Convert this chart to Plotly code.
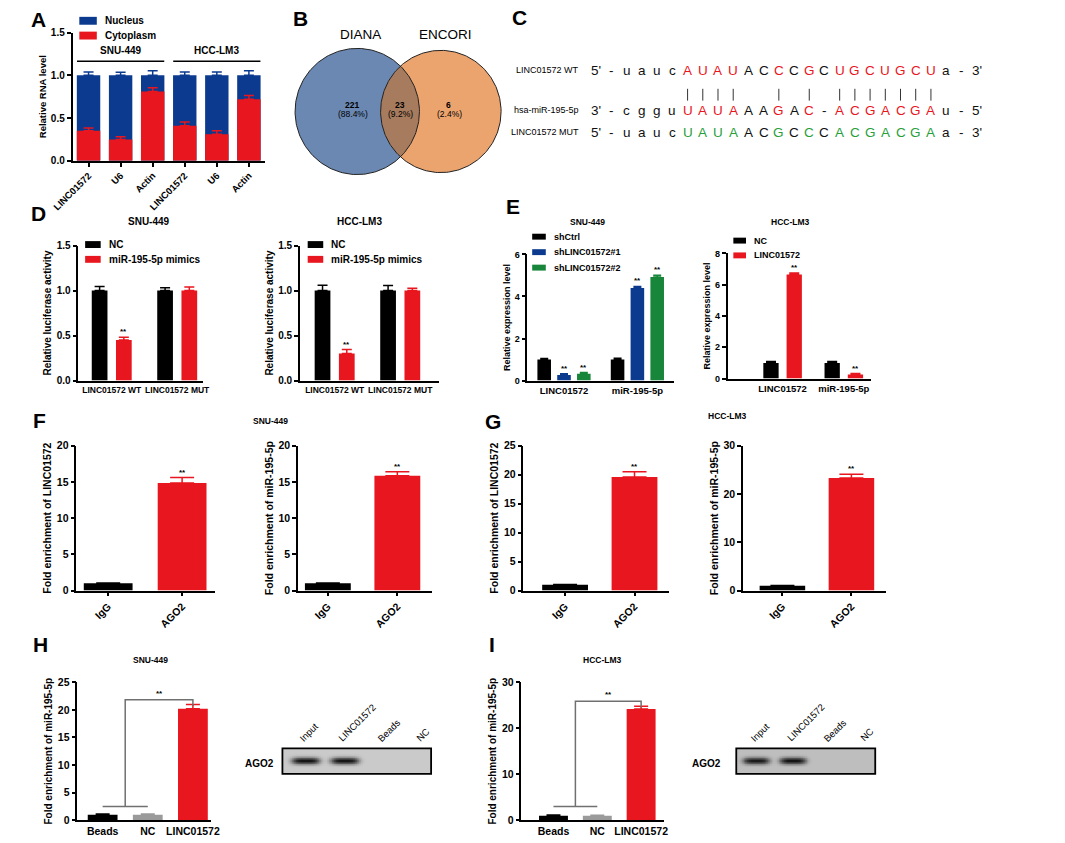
import numpy as np
import plotly.graph_objects as go

W, H = 1065, 843
FONT = "Arial, Liberation Sans, sans-serif"

# ================= DATA =================
# A  nuclear / cytoplasmic fractionation
A_targets = ["LINC01572", "U6", "Actin", "LINC01572", "U6", "Actin"]
A_cells = ["SNU-449", "HCC-LM3"]
A_nucleus_total = [1.0, 1.0, 1.0, 1.0, 1.0, 1.0]
A_nucleus_err = [0.04, 0.035, 0.055, 0.04, 0.04, 0.055]
A_cytoplasm = [0.35, 0.25, 0.81, 0.41, 0.31, 0.72]
A_cytoplasm_err = [0.035, 0.03, 0.045, 0.045, 0.04, 0.045]

# B  Venn
B_sets = ["DIANA", "ENCORI"]
B_counts = [221, 23, 6]
B_percent = ["88.4%", "9.2%", "2.4%"]

# C  binding sites
C_labels = ["LINC01572 WT", "hsa-miR-195-5p", "LINC01572 MUT"]
C_wt = ["5'", "-", "u", "a", "u", "c", "A", "U", "A", "U", "A", "C", "C", "C", "G", "C",
        "U", "G", "C", "U", "G", "C", "U", "a", "-", "3'"]
C_mir = ["3'", "-", "c", "g", "g", "u", "U", "A", "U", "A", "A", "A", "G", "A", "C", "-",
         "A", "C", "G", "A", "C", "G", "A", "u", "-", "5'"]
C_mut = ["5'", "-", "u", "a", "u", "c", "U", "A", "U", "A", "A", "C", "G", "C", "C", "C",
         "A", "C", "G", "A", "C", "G", "A", "a", "-", "3'"]
C_site = "kkkkkkrrrrkkrkrkrrrrrrrkkk"   # r = paired / mutated site

# D  luciferase
D_groups = ["LINC01572 WT", "LINC01572 MUT"]
D_series = ["NC", "miR-195-5p mimics"]
D_snu_nc = [1.0, 1.0]
D_snu_nc_err = [0.045, 0.03]
D_snu_mimics = [0.45, 1.0]
D_snu_mimics_err = [0.03, 0.04]
D_hcc_nc = [1.0, 1.0]
D_hcc_nc_err = [0.06, 0.055]
D_hcc_mimics = [0.30, 1.0]
D_hcc_mimics_err = [0.045, 0.025]
D_mimics_sig = ["**", ""]

# E  expression
E_groups = ["LINC01572", "miR-195-5p"]
E_snu_series = ["shCtrl", "shLINC01572#1", "shLINC01572#2"]
E_snu_shctrl = [1.0, 1.0]
E_snu_shctrl_err = [0.05, 0.06]
E_snu_sh1 = [0.27, 4.40]
E_snu_sh1_err = [0.05, 0.08]
E_snu_sh2 = [0.33, 4.92]
E_snu_sh2_err = [0.05, 0.09]
E_hcc_series = ["NC", "LINC01572"]
E_hcc_nc = [1.0, 1.0]
E_hcc_nc_err = [0.1, 0.09]
E_hcc_linc = [6.65, 0.27]
E_hcc_linc_err = [0.1, 0.05]
E_sig = ["**", "**"]

# F / G  RIP
FG_groups = ["IgG", "AGO2"]
F_snu_linc = [1.0, 14.85]
F_snu_linc_err = [0.05, 0.75]
F_snu_mir = [1.0, 15.85]
F_snu_mir_err = [0.06, 0.55]
G_hcc_linc = [1.0, 19.6]
G_hcc_linc_err = [0.05, 0.9]
G_hcc_mir = [1.0, 23.3]
G_hcc_mir_err = [0.05, 0.8]
FG_sig = ["", "**"]

# H / I  RNA pull-down
HI_groups = ["Beads", "NC", "LINC01572"]
H_snu = [1.0, 1.0, 20.2]
H_snu_err = [0.12, 0.12, 0.75]
I_hcc = [1.0, 0.95, 24.2]
I_hcc_err = [0.12, 0.12, 0.6]
blot_lanes = ["Input", "LINC01572", "Beads", "NC"]
H_blot_band = [1.0, 1.0, 0.0, 0.0]
I_blot_band = [0.9, 0.95, 0.0, 0.0]

# ================= STYLE =================
BLACK = "#000000"
RED = "#e8161e"
BLUE = "#0b3a8f"
GREEN = "#17853a"
GRAY = "#9a9a9a"
SEQ_COL = {"k": "#111111", "r": "#e8161e", "g": "#27a03c"}


def font(size, bold=True, color="black"):
    return dict(family=FONT, size=size, color=color, weight="bold" if bold else "normal")


traces, annotations, shapes = [], [], []
layout = dict(width=W, height=H, margin=dict(l=0, r=0, t=0, b=0),
              paper_bgcolor="white", plot_bgcolor="white", showlegend=False,
              barmode="overlay", font=dict(family=FONT, color="black"))


def names(n):
    s = "" if n == 1 else str(n)
    return "x" + s, "y" + s, "xaxis" + s, "yaxis" + s


def setup(n, xpx, ypx, xr, yr, ytick, ytitle, ticktext, xangle=0, xticks="",
          tsize=9, ttsize=9, xtsize=9, ytext=None):
    x, y, xa, ya = names(n)
    layout[xa] = dict(domain=[xpx[0] / W, xpx[1] / W], range=xr, anchor=y,
                      showline=True, linecolor="black", linewidth=1.5,
                      ticks=xticks, ticklen=4, tickwidth=1.5, tickcolor="black",
                      tickmode="array", tickvals=list(range(len(ticktext))),
                      ticktext=ticktext, tickangle=xangle, tickfont=font(xtsize),
                      showgrid=False, zeroline=False, fixedrange=True)
    layout[ya] = dict(domain=[1 - ypx[1] / H, 1 - ypx[0] / H], range=yr, anchor=x,
                      showline=True, linecolor="black", linewidth=1.5,
                      ticks="outside", ticklen=4, tickwidth=1.5, tickcolor="black",
                      tickmode="array", tickvals=ytick,
                      ticktext=ytext if ytext else [str(v) for v in ytick],
                      tickfont=font(tsize), showgrid=False, zeroline=False,
                      fixedrange=True,
                      title=dict(text=ytitle, font=font(ttsize), standoff=3))


def bars(n, shift, vals, errs, color, width, cap, sig=None):
    x, y, _, _ = names(n)
    xs = [i + shift for i in range(len(vals))]
    if isinstance(color, list):
        groups = [([xi], [v], [e], c) for xi, v, e, c in zip(xs, vals, errs, color)]
    else:
        groups = [(xs, vals, errs, color)]
    for gx, gv, ge, c in groups:
        traces.append(go.Bar(x=gx, y=gv, width=width,
                             marker=dict(color=c, line=dict(width=0)),
                             error_y=dict(type="data", array=ge, arrayminus=[0] * len(ge),
                                          symmetric=False, color=c, thickness=1.5, width=cap),
                             xaxis=x, yaxis=y, showlegend=False, hoverinfo="skip"))
    if sig:
        for xi, v, e, s in zip(xs, vals, errs, sig):
            if s:
                annotations.append(dict(x=xi, y=v + e, xref=x, yref=y, text=s,
                                        showarrow=False, yanchor="bottom",
                                        font=font(8), yshift=-1))


def ptext(xpx, ypx, text, size, bold=True, color="black", xanchor="center", angle=0):
    annotations.append(dict(x=xpx / W, y=1 - ypx / H, xref="paper", yref="paper",
                            text=text, showarrow=False, xanchor=xanchor, yanchor="middle",
                            font=font(size, bold, color), textangle=angle))


def legend_item(xpx, ypx, color, label, size=10, rw=15, rh=7):
    shapes.append(dict(type="rect", xref="paper", yref="paper",
                       x0=xpx / W, x1=(xpx + rw) / W,
                       y0=1 - (ypx + rh / 2) / H, y1=1 - (ypx - rh / 2) / H,
                       fillcolor=color, line=dict(width=0)))
    ptext(xpx + rw + 6, ypx, label, size, xanchor="left")


# ================= PANEL LETTERS =================
for lab, (lx, ly) in zip("ABCDEFGHI", [(8, 14), (278, 13), (503, 12), (8, 210), (497, 203),
                                       (10, 420), (475, 421), (10, 648), (480, 648)]):
    ptext(lx, ly, lab, 21, xanchor="left")

# ================= A =================
setup(1, (53, 251), (27, 157), [-0.5, 5.5], [0, 1.5], [0, 0.5, 1.0, 1.5],
      "Relative RNA level", A_targets, xangle=-45, xticks="outside",
      ytext=["0.0", "0.5", "1.0", "1.5"], tsize=10, ttsize=9.5, xtsize=9.5)
bars(1, 0, A_nucleus_total, A_nucleus_err, BLUE, 0.73, 5)
bars(1, 0, A_cytoplasm, A_cytoplasm_err, RED, 0.73, 5)
for gi, cell in enumerate(A_cells):
    first, last = gi * 3, gi * 3 + 2
    shapes.append(dict(type="line", xref="x", yref="y", x0=first - 0.36, x1=last + 0.36,
                       y0=1.165, y1=1.165, line=dict(color="black", width=1.5)))
    annotations.append(dict(x=(first + last) / 2, y=1.2, xref="x", yref="y", text=cell,
                            showarrow=False, yanchor="bottom", font=font(10)))
legend_item(60, 15, BLUE, "Nucleus", size=10, rw=18, rh=8)
legend_item(60, 30, RED, "Cytoplasm", size=10, rw=18, rh=8)

# ================= B (Venn) =================
setup(2, (270, 505), (20, 190), [270, 505], [190, 20], [], "", [])
layout["xaxis2"].update(visible=False)
layout["yaxis2"].update(visible=False)
cA, rA = (346.0, 107.0), 64.0
cB, rB = (432.0, 107.0), 62.0
t = np.linspace(0, 2 * np.pi, 240)
for (cx, cy), r, col in [(cA, rA, "#6b88b3"), (cB, rB, "#eca46f")]:
    traces.append(go.Scatter(x=cx + r * np.cos(t), y=cy + r * np.sin(t), mode="lines",
                             fill="toself", fillcolor=col, line=dict(width=0),
                             xaxis="x2", yaxis="y2", hoverinfo="skip"))
d = cB[0] - cA[0]
a = (rA ** 2 - rB ** 2 + d ** 2) / (2 * d)
h = np.sqrt(rA ** 2 - a ** 2)
thA = np.arctan2(h, a)
thB = np.arctan2(h, d - a)
ta = np.linspace(-thA, thA, 80)
tb = np.linspace(np.pi - thB, np.pi + thB, 80)
lx = np.concatenate([cA[0] + rA * np.cos(ta), cB[0] + rB * np.cos(tb)])
ly = np.concatenate([cA[1] + rA * np.sin(ta), cB[1] + rB * np.sin(tb)])
traces.append(go.Scatter(x=lx, y=ly, mode="lines", fill="toself", fillcolor="#a67b5e",
                         line=dict(width=0), xaxis="x2", yaxis="y2", hoverinfo="skip"))
for (cx, cy), r in [(cA, rA), (cB, rB)]:
    traces.append(go.Scatter(x=cx + r * np.cos(t), y=cy + r * np.sin(t), mode="lines",
                             line=dict(color="#222222", width=1), xaxis="x2", yaxis="y2",
                             hoverinfo="skip"))
for name, cx in zip(B_sets, [cA[0] + 3, cB[0] + 5]):
    annotations.append(dict(x=cx, y=29, xref="x2", yref="y2", text=name, showarrow=False,
                            font=font(13.5, bold=False)))
for cnt, pct, cx in zip(B_counts, B_percent, [341, 390, 440]):
    annotations.append(dict(x=cx, y=100, xref="x2", yref="y2", text=str(cnt),
                            showarrow=False, font=font(8.5)))
    annotations.append(dict(x=cx + 1, y=110, xref="x2", yref="y2", text="(" + pct + ")",
                            showarrow=False, font=font(8.5, bold=False)))

# ================= C =================
C_x0, C_step = 592, 15.65
C_rows_y = [65, 106, 128]
for lab, yy in zip(C_labels, C_rows_y):
    ptext(576, yy, lab, 9, bold=False, xanchor="right")
for row, yy, hot in [(C_wt, C_rows_y[0], "r"), (C_mir, C_rows_y[1], "r"), (C_mut, C_rows_y[2], "g")]:
    for i, (ch, code) in enumerate(zip(row, C_site)):
        col = SEQ_COL[hot] if code == "r" else SEQ_COL["k"]
        ptext(C_x0 + i * C_step, yy, ch, 13.5, bold=False, color=col)
for i, code in enumerate(C_site):
    if code == "r":
        xp = (C_x0 + i * C_step) / W
        shapes.append(dict(type="line", xref="paper", yref="paper", x0=xp, x1=xp,
                           y0=1 - 96 / H, y1=1 - 84 / H, line=dict(color="#333333", width=1)))

# ================= D =================
for n, xpx, xr, nc, nce, mim, mime in [
        (3, (59, 187), [-0.51, 1.39], D_snu_nc, D_snu_nc_err, D_snu_mimics, D_snu_mimics_err),
        (4, (287, 430), [-0.53, 1.59], D_hcc_nc, D_hcc_nc_err, D_hcc_mimics, D_hcc_mimics_err)]:
    setup(n, xpx, (243, 380), xr, [0, 1.5], [0, 0.5, 1.0, 1.5],
          "Relative luciferase activity", D_groups, ytext=["0.0", "0.5", "1.0", "1.5"],
          tsize=10, ttsize=10, xtsize=8.5)
    bars(n, -0.185, nc, nce, BLACK, 0.24, 5)
    bars(n, 0.185, mim, mime, RED, 0.24, 5, D_mimics_sig)
ptext(132, 219, "SNU-449", 10)
ptext(348, 219, "HCC-LM3", 10)
for lx0 in [66, 295]:
    for k, (s, c) in enumerate(zip(D_series, [BLACK, RED])):
        legend_item(lx0, 242 + 15 * k, c, s, size=10, rw=16, rh=7)

# ================= E =================
setup(5, (521, 672), (252, 380), [-0.5, 1.5], [0, 6], [0, 2, 4, 6],
      "Relative expression level", E_groups, tsize=9, ttsize=9, xtsize=9.5)
bars(5, -0.27, E_snu_shctrl, E_snu_shctrl_err, BLACK, 0.185, 4)
bars(5, 0.0, E_snu_sh1, E_snu_sh1_err, BLUE, 0.185, 4, E_sig)
bars(5, 0.27, E_snu_sh2, E_snu_sh2_err, GREEN, 0.185, 4, E_sig)
setup(6, (727, 875), (251, 378), [-0.9, 1.45], [0, 8], [0, 2, 4, 6, 8],
      "Relative expression level", E_groups, tsize=9, ttsize=9, xtsize=9.5)
bars(6, -0.19, E_hcc_nc, E_hcc_nc_err, BLACK, 0.25, 5)
bars(6, 0.19, E_hcc_linc, E_hcc_linc_err, RED, 0.25, 5, E_sig)
ptext(583, 219, "SNU-449", 8.5)
ptext(792, 219, "HCC-LM3", 8.5)
for k, (s, c) in enumerate(zip(E_snu_series, [BLACK, BLUE, GREEN])):
    legend_item(526, 234 + 15.7 * k, c, s, size=9, rw=14, rh=6)
for k, (s, c) in enumerate(zip(E_hcc_series, [BLACK, RED])):
    legend_item(733, 238 + 15 * k, c, s, size=9, rw=13, rh=6)

# ================= F / G =================
fg = [
    (7, (57, 200), [-0.43, 1.45], [0, 20], [0, 5, 10, 15, 20], "Fold enrichment of LINC01572", F_snu_linc, F_snu_linc_err),
    (8, (285, 423), [-0.43, 1.5], [0, 20], [0, 5, 10, 15, 20], "Fold enrichment of miR-195-5p", F_snu_mir, F_snu_mir_err),
    (9, (517, 667), [-0.6, 1.5], [0, 25], [0, 5, 10, 15, 20, 25], "Fold enrichment of LINC01572", G_hcc_linc, G_hcc_linc_err),
    (10, (743, 890), [-0.57, 1.5], [0, 30], [0, 10, 20, 30], "Fold enrichment of miR-195-5p", G_hcc_mir, G_hcc_mir_err),
]
for n, xpx, xr, yr, yt, title, vals, errs in fg:
    setup(n, xpx, (446, 593), xr, yr, yt, title, FG_groups, xangle=-45, xticks="outside",
          tsize=10.5, ttsize=10.5, xtsize=10.5)
    bars(n, 0, vals, errs, [BLACK, RED], 0.66, 12, FG_sig)
ptext(257, 421, "SNU-449", 8.5)
ptext(727, 416, "HCC-LM3", 8.5)

# ================= H / I =================
hi = [
    (11, (58, 195), [-0.56, 2.39], [0, 25], [0, 5, 10, 15, 20, 25], H_snu, H_snu_err),
    (13, (515, 662), [-0.73, 2.53], [0, 30], [0, 10, 20, 30], I_hcc, I_hcc_err),
]
for n, xpx, xr, yr, yt, vals, errs in hi:
    setup(n, xpx, (686, 826), xr, yr, yt, "Fold enrichment of miR-195-5p", HI_groups,
          tsize=10.5, ttsize=10, xtsize=10.5)
    bars(n, 0, vals, errs, [BLACK, GRAY, RED], 0.66, 7)
    x, y, _, _ = names(n)
    ymax = yr[1]
    bottom = 0.1 * ymax
    top = vals[2] + errs[2] + 0.035 * ymax
    traces.append(go.Scatter(x=[0, 1, None, 0.5, 0.5, 2, 2],
                             y=[bottom, bottom, None, bottom, top, top, vals[2] + errs[2] - 0.01 * ymax],
                             mode="lines", line=dict(color="#707070", width=1.5),
                             xaxis=x, yaxis=y, hoverinfo="skip"))
    annotations.append(dict(x=1.25, y=top, xref=x, yref=y, text="**", showarrow=False,
                            yanchor="bottom", font=font(8)))
ptext(133, 663, "SNU-449", 8.5)
ptext(598, 663, "HCC-LM3", 8.5)

# blots (rendered as a band-intensity image)
blots = [(12, (269, 422), [-0.6, 3.2], H_blot_band, 262, 0.0),
         (14, (736, 879), [-0.55, 3.25], I_blot_band, 722, 0.06)]
for n, xpx, xr, band, lab_x, bgshade in blots:
    x, y, xa, ya = names(n)
    layout[xa] = dict(domain=[xpx[0] / W, xpx[1] / W], range=xr, anchor=y, visible=False,
                      fixedrange=True)
    layout[ya] = dict(domain=[1 - 779 / H, 1 - 753 / H], range=[0, 1], anchor=x,
                      visible=False, fixedrange=True)
    gx = np.linspace(xr[0], xr[1], 220)
    gy = np.linspace(0, 1, 40)
    X, Y = np.meshgrid(gx, gy)
    Z = np.full_like(X, bgshade)
    for i, b in enumerate(band):
        Z = Z + b * np.exp(-np.abs((X - i) / 0.36) ** 4) * np.exp(-((Y - 0.5) / 0.13) ** 2)
    Z = np.clip(Z, 0, 1)
    traces.append(go.Heatmap(x=gx, y=gy, z=Z, zmin=0, zmax=1, showscale=False,
                             colorscale=[[0, "#cacaca"], [0.5, "#6a6a6a"], [1, "#141414"]],
                             xaxis=x, yaxis=y, hoverinfo="skip"))
    shapes.append(dict(type="rect", xref=x + " domain", yref=y + " domain", x0=0, x1=1,
                       y0=0, y1=1, line=dict(color="black", width=1.8), layer="above"))
    for i, lane in enumerate(blot_lanes):
        annotations.append(dict(x=i - 0.3, y=1, xref=x, yref=y, text=lane, showarrow=False,
                                xanchor="left", yanchor="bottom", textangle=-45, yshift=2,
                                font=font(9.5, bold=False)))
    ptext(lab_x, 768, "AGO2", 10, xanchor="right")

layout["annotations"] = annotations
layout["shapes"] = shapes
fig = go.Figure(data=traces, layout=layout)
fig.write_html("out.html", config={"displayModeBar": False},
               post_script="document.body.style.margin='0';")
